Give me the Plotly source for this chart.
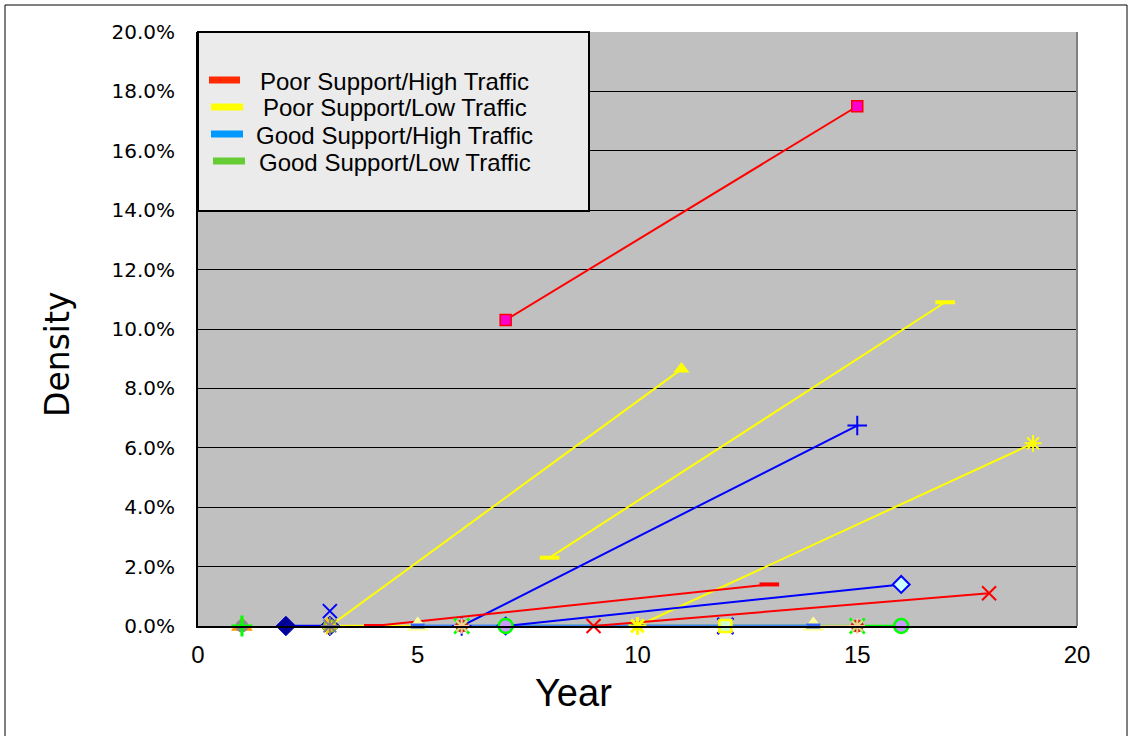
import plotly.graph_objects as go

# ---------------- data (Year, Density %) ----------------
# Poor Support / High Traffic (red)
psht_sq_year = [7, 15]
psht_sq_dens = [10.3, 17.5]
psht_dash_year = [4, 13]
psht_dash_dens = [0.0, 1.4]
psht_x_year = [9, 18]
psht_x_dens = [0.0, 1.1]

# Poor Support / Low Traffic (yellow)
pslt_tri_year = [3, 11]
pslt_tri_dens = [0.0, 8.65]
pslt_dash_year = [8, 17]
pslt_dash_dens = [2.3, 10.9]
pslt_star_year = [10, 19]
pslt_star_dens = [0.0, 6.15]
pslt_zero_year = [3, 5]
pslt_zero_dens = [0.0, 0.0]

# Good Support / High Traffic (blue)
gsht_plus_year = [6, 15]
gsht_plus_dens = [0.0, 6.75]
gsht_dia_year = [7, 16]
gsht_dia_dens = [0.0, 1.4]
gsht_navy_year = [2, 3]
gsht_navy_dens = [0.0, 0.0]
gsht_zero_year = [5, 14]
gsht_zero_dens = [0.0, 0.0]
gsht_xmark_year = [3]
gsht_xmark_dens = [0.5]

# Good Support / Low Traffic (green)
gslt_circ_year = [7, 16]
gslt_circ_dens = [0.0, 0.0]
gslt_tan_year = [14, 15]
gslt_tan_dens = [0.0, 0.0]

# other zero-density observations
yr1_year = [1]
yr1_dens = [0.0]
yr3_year = [3]
yr3_dens = [0.0]
yr6_15_year = [6, 15]
yr6_15_dens = [0.0, 0.0]
yr5_14_year = [5, 14]
yr5_14_dens = [0.0, 0.0]
yr10_year = [10]
yr10_dens = [0.0]
yr12_year = [12]
yr12_dens = [0.0]

legend_labels = ["Poor Support/High Traffic", "Poor Support/Low Traffic",
                 "Good Support/High Traffic", "Good Support/Low Traffic"]
legend_colors = ["#ff2a00", "#ffff00", "#0099ff", "#66cc33"]

y_ticks = [0, 2, 4, 6, 8, 10, 12, 14, 16, 18, 20]
x_ticks = [0, 5, 10, 15, 20]

# ---------------- figure ----------------
W, H = 1130, 736
L, R, T, B = 198, 1077, 32, 626


def px2x(px):
    return (px - L) / (R - L)


def px2y(py):
    return (B - py) / (B - T)


fig = go.Figure()


def add(x, y, mode="lines+markers", color="red", width=2, symbol="circle",
        size=10, mcolor=None, mline=None, mlw=0):
    fig.add_trace(go.Scatter(
        x=x, y=y, mode=mode, cliponaxis=False, showlegend=False,
        hoverinfo="x+y",
        line=dict(color=color, width=width),
        marker=dict(symbol=symbol, size=size,
                    color=mcolor if mcolor is not None else color,
                    line=dict(color=mline if mline is not None else color, width=mlw)),
    ))


# zero lines (drawn first)
add(gslt_circ_year, gslt_circ_dens, mode="lines", color="#00ff00", width=2.5)
add(gslt_tan_year, gslt_tan_dens, mode="lines", color="#e8c890", width=2.5)
add(gsht_zero_year, gsht_zero_dens, mode="lines", color="#4a86f0", width=3)
add(pslt_zero_year, pslt_zero_dens, mode="lines", color="#ffff00", width=2.5)
add(gsht_navy_year, gsht_navy_dens, color="#0000ff", width=2.5, symbol="diamond",
    size=15, mcolor="#000099", mline="#0000cc", mlw=1)

# sloped series
add(psht_sq_year, psht_sq_dens, color="#ff0000", symbol="square", size=11,
    mcolor="#ff00cc", mline="#ff0000", mlw=1.5)
add(pslt_tri_year, pslt_tri_dens, color="#ffff00", symbol="triangle-up", size=14,
    mcolor="#ffff00", mline="#ffff00", mlw=0)
add(pslt_dash_year, pslt_dash_dens, color="#ffff00", symbol="line-ew", size=14,
    mline="#ffff00", mlw=4)
add(gsht_plus_year, gsht_plus_dens, color="#0000ff", symbol="cross-thin", size=14,
    mline="#0000ff", mlw=2)
add(pslt_star_year, pslt_star_dens, color="#ffff00", symbol="asterisk", size=14,
    mline="#ffff00", mlw=2)
add(psht_dash_year, psht_dash_dens, color="#ff0000", symbol="line-ew", size=14,
    mline="#ff0000", mlw=4)
add(gsht_dia_year, gsht_dia_dens, color="#0000ff", symbol="diamond", size=13,
    mcolor="#ccffff", mline="#0000ff", mlw=2)
add(psht_x_year, psht_x_dens, color="#ff0000", symbol="x-thin", size=14,
    mline="#ff0000", mlw=2)
add(gsht_xmark_year, gsht_xmark_dens, mode="markers", symbol="x-thin", size=14,
    mline="#0000ff", mlw=2)

# zero-density markers
add(yr1_year, yr1_dens, mode="markers", symbol="triangle-up", size=19,
    mcolor="#ff9900", mline="#ff9900")
add(yr1_year, yr1_dens, mode="markers", symbol="circle", size=13,
    mcolor="#8c8c8c", mline="#8c8c8c")
add(yr1_year, yr1_dens, mode="markers", symbol="cross-thin", size=15,
    mline="#00ff00", mlw=3)
add(yr3_year, yr3_dens, mode="markers", symbol="circle", size=14,
    mcolor="#99cc00", mline="#99cc00")
add(yr3_year, yr3_dens, mode="markers", symbol="triangle-right", size=16,
    mcolor="#ffcc00", mline="#ffcc00")
add(yr3_year, yr3_dens, mode="markers", symbol="asterisk", size=15,
    mline="#7f7f9f", mlw=2)
add(yr6_15_year, yr6_15_dens, mode="markers", symbol="circle", size=13,
    mcolor="#dd2222", mline="#dd2222")
add(yr6_15_year, yr6_15_dens, mode="markers", symbol="x-thin", size=15,
    mline="#00ff00", mlw=2.5)
add(yr6_15_year, yr6_15_dens, mode="markers", symbol="asterisk", size=13,
    mline="#ffcc99", mlw=2)
add(yr5_14_year, yr5_14_dens, mode="markers", symbol="triangle-up", size=19,
    mcolor="#ffff99", mline="#ffff99")
add(yr5_14_year, yr5_14_dens, mode="markers", symbol="line-ew", size=10,
    mline="#3366ff", mlw=5)
add(gslt_circ_year, gslt_circ_dens, mode="markers", symbol="circle", size=14,
    mcolor="#cc99ff", mline="#00ff00", mlw=2.5)
add(yr10_year, yr10_dens, mode="markers", symbol="diamond-wide", size=13,
    mcolor="#0000ff", mline="#0000ff")
add(yr10_year, yr10_dens, mode="markers", symbol="asterisk", size=15,
    mline="#ffff00", mlw=3)
add(yr12_year, yr12_dens, mode="markers", symbol="x-thin", size=16,
    mline="#0000ff", mlw=2.5)
add(yr12_year, yr12_dens, mode="markers", symbol="square", size=12,
    mcolor="#ccffcc", mline="#ffff00", mlw=2.5)

# ---------------- shapes: frame, legend box ----------------
shapes = [
    dict(type="rect", xref="paper", yref="paper",
         x0=px2x(5), x1=px2x(1127), y0=px2y(745), y1=px2y(5),
         line=dict(color="black", width=1), fillcolor="rgba(0,0,0,0)", layer="below"),
    dict(type="line", xref="paper", yref="paper",
         x0=1, x1=1, y0=0, y1=1, line=dict(color="#808080", width=2)),
    dict(type="rect", xref="paper", yref="paper",
         x0=px2x(198), x1=px2x(589), y0=px2y(211), y1=px2y(32),
         line=dict(color="black", width=2), fillcolor="#ebebeb", layer="above"),
]
annotations = []
sw_x = [(209, 240), (211, 243), (211, 243), (213, 245)]
sw_y = [80, 107, 134, 161]
txt_x = [258, 261, 254, 257]
for lab, col, (sx0, sx1), sy, tx in zip(legend_labels, legend_colors, sw_x, sw_y, txt_x):
    shapes.append(dict(type="rect", xref="paper", yref="paper",
                       x0=px2x(sx0), x1=px2x(sx1), y0=px2y(sy + 3.5), y1=px2y(sy - 3.5),
                       line=dict(width=0), fillcolor=col, layer="above"))
    annotations.append(dict(xref="paper", yref="paper", x=px2x(tx), y=px2y(sy + 1),
                            xanchor="left", yanchor="middle", showarrow=False,
                            text=lab, font=dict(family="Liberation Sans, Arial", size=24,
                                                color="black")))

annotations.append(dict(xref="paper", yref="paper", x=px2x(573), y=px2y(693),
                        xanchor="center", yanchor="middle", showarrow=False,
                        text="Year", font=dict(family="Liberation Sans, Arial", size=38,
                                               color="black")))
annotations.append(dict(xref="paper", yref="paper", x=px2x(57), y=px2y(355),
                        xanchor="center", yanchor="middle", showarrow=False,
                        textangle=-90,
                        text="Density", font=dict(family="DejaVu Sans", size=33,
                                                  color="black")))

fig.update_layout(
    width=W, height=H,
    margin=dict(l=L, r=W - R, t=T, b=H - B, pad=0),
    paper_bgcolor="white", plot_bgcolor="#c0c0c0",
    showlegend=False,
    shapes=shapes, annotations=annotations,
    xaxis=dict(range=[0, 20], tickvals=x_ticks, ticktext=[str(v) for v in x_ticks],
               showgrid=False, zeroline=False, showline=True, linecolor="black",
               linewidth=2, ticks="", ticklabelstandoff=6,
               tickfont=dict(family="Liberation Sans, Arial", size=24, color="black")),
    yaxis=dict(range=[0, 20], tickvals=y_ticks,
               ticktext=[f"{v:.1f}%" for v in y_ticks],
               showgrid=True, gridcolor="black", gridwidth=1, zeroline=False,
               showline=True, linecolor="black", linewidth=2, ticks="",
               ticklabelstandoff=17,
               tickfont=dict(family="DejaVu Sans", size=20, color="black")),
)

fig.write_html("out.html", config={"displayModeBar": False},
               post_script="document.body.style.margin='0';document.body.style.overflow='hidden';")
